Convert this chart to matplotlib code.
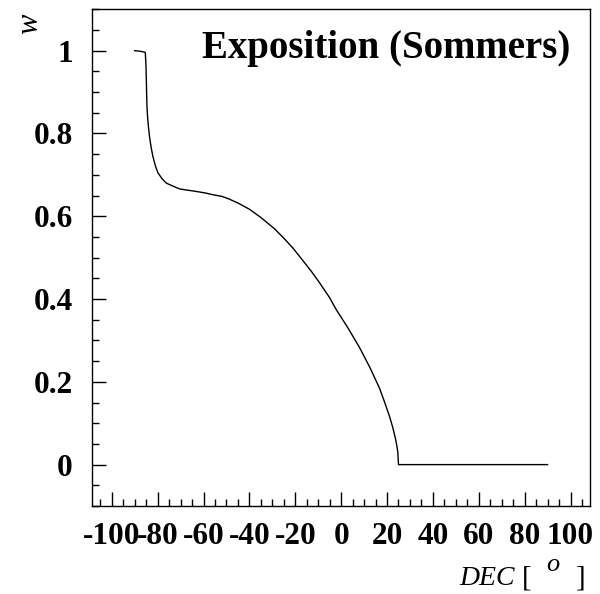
import matplotlib
matplotlib.use('Agg')
import matplotlib.pyplot as plt
from matplotlib.ticker import MultipleLocator, FixedLocator

plt.rcParams['font.family'] = 'Liberation Serif'
plt.rcParams['axes.unicode_minus'] = False

# curve (declination in degrees, relative exposure)
dec = [-90.0, -88.0, -85.4, -85.1, -84.9, -84.7, -84.4, -84.0, -83.5, -82.8,
       -82.1, -81.0, -79.9, -78.0, -76.2, -73.0, -70.4, -67.0, -63.2, -59.0,
       -55.9, -52.0, -49.0, -45.0, -40.0, -35.0, -29.1, -25.0, -21.0, -16.7,
       -13.0, -9.5, -5.0, -2.2, 3.0, 8.0, 12.5, 16.7, 19.0, 21.0,
       22.5, 23.7, 24.3, 24.7, 25.0, 90.0]
w = [1.000, 0.999, 0.996, 0.965, 0.920, 0.870, 0.840, 0.815, 0.790, 0.765,
     0.745, 0.722, 0.705, 0.690, 0.680, 0.672, 0.666, 0.663, 0.660, 0.656,
     0.652, 0.648, 0.642, 0.632, 0.617, 0.597, 0.570, 0.547, 0.523, 0.493,
     0.467, 0.440, 0.403, 0.375, 0.330, 0.283, 0.235, 0.185, 0.150, 0.118,
     0.090, 0.062, 0.045, 0.030, 0.000, 0.000]

x_ticks = [-100, -80, -60, -40, -20, 0, 20, 40, 60, 80, 100]
y_ticks = [0, 0.2, 0.4, 0.6, 0.8, 1.0]
y_labels = ['0', '0.2', '0.4', '0.6', '0.8', '1']

fig = plt.figure(figsize=(6.0, 5.94), dpi=100)
ax = fig.add_axes([92.3 / 600, 88 / 594, (590 - 92.3) / 600, (506 - 9.3) / 594])

ax.plot(dec, w, color='black', lw=1.0)

ax.set_xlim(-108.5, 108.5)
ax.set_ylim(-0.1, 1.1)

ax.xaxis.set_major_locator(FixedLocator(x_ticks))
ax.xaxis.set_minor_locator(MultipleLocator(5))
ax.yaxis.set_major_locator(FixedLocator(y_ticks))
ax.yaxis.set_minor_locator(MultipleLocator(0.05))
ax.set_xticklabels([str(t) for t in x_ticks])
ax.set_yticklabels(y_labels)

ax.tick_params(which='both', direction='in', top=False, right=False, width=1)
ax.tick_params(which='major', length=10.3)
ax.tick_params(which='minor', length=5)
ax.tick_params(axis='x', pad=11.5)
ax.tick_params(axis='y', pad=14)
for lab in ax.get_xticklabels() + ax.get_yticklabels():
    lab.set_fontsize(22.5)
    lab.set_fontweight('bold')

for sp in ax.spines.values():
    sp.set_linewidth(1)

fig.text(570 / 600, 1 - 58 / 594, 'Exposition (Sommers)', ha='right',
         va='baseline', fontsize=28, fontweight='bold')

# x axis title: DEC [ o ]
base = 1 - 585 / 594
fig.text(459 / 600, base, 'DEC', ha='left', va='baseline', fontsize=20, style='italic')
fig.text(522 / 600, base, '[', ha='left', va='baseline', fontsize=21)
fig.text(546 / 600, 1 - 571 / 594, 'o', ha='left', va='baseline', fontsize=19, style='italic')
fig.text(576 / 600, base, ']', ha='left', va='baseline', fontsize=21)

fig.text(30 / 600, 1 - 24 / 594, 'w', rotation=90, ha='center', va='center',
         fontsize=22, style='italic')

fig.savefig('out.png', dpi=100)
